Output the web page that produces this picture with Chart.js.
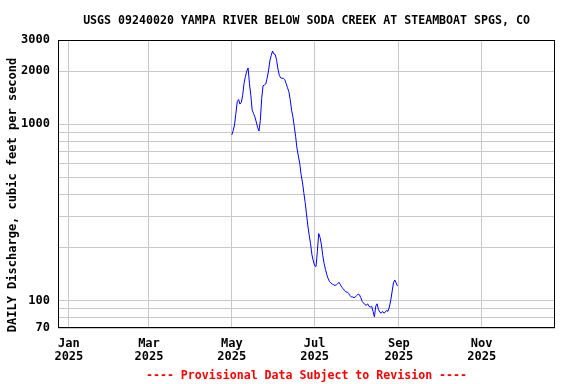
<!DOCTYPE html>
<html>
<head>
<meta charset="utf-8">
<script src="https://cdn.jsdelivr.net/npm/chart.js@4/dist/chart.umd.min.js"></script>
<style>
  html, body { margin: 0; padding: 0; background: #fff; }
</style>
</head>
<body>
<canvas id="flowChart" width="576" height="384"></canvas>
<script>
// days counted from Jan 1 2025
const firstDay = 120  // May 1
const dailyFlow = [
	870, 920, 990, 1150, 1340, 1380, 1300, 1330, 1460, 1700,
	1860, 2000, 2080, 1700, 1460, 1200, 1150, 1100, 1030, 960,
	915, 1050, 1400, 1650, 1670, 1690, 1820, 2000, 2280, 2450,
	2600, 2500, 2480, 2300, 2050, 1890, 1830, 1820, 1820, 1790,
	1700, 1610, 1530, 1380, 1200, 1100, 970, 850, 730, 660,
	600, 520, 470, 410, 360, 310, 265, 235, 210, 182,
	168, 158, 156, 190, 240, 228, 207, 180, 162, 150,
	140, 133, 128, 126, 124, 123, 122, 123, 125, 127,
	123, 119, 117, 114, 112, 112, 110, 107, 105, 105,
	104, 105, 107, 109, 108, 104, 99, 97, 95, 94,
	96, 93, 92, 93, 87, 81, 93, 96, 89, 86,
	85, 87, 85, 86, 88, 87, 92, 100, 112, 126,
	131, 126, 121
]

const monthDays = [0, 59, 120, 181, 243, 304]
const monthNames = ["Jan", "Mar", "May", "Jul", "Sep", "Nov"]
const yearLabel = "2025"

const yGrid = [70, 80, 90, 100, 200, 300, 400, 500, 600, 700, 800, 900, 1000, 2000, 3000]
const yLabeled = [70, 100, 1000, 2000, 3000]

const titleText = "USGS 09240020 YAMPA RIVER BELOW SODA CREEK AT STEAMBOAT SPGS, CO"
const yTitleText = "DAILY Discharge, cubic feet per second"
const captionText = "---- Provisional Data Subject to Revision ----"

const fontFamily = "'DejaVu Sans Mono', 'Liberation Mono', monospace"
const boldFont = "bold 12px " + fontFamily
const headFont = "bold 11.6px " + fontFamily
const gridColor = "#c8c8c8"

let points = []
dailyFlow.forEach((v, i) => {
	points.push({ x: firstDay + i, y: v })
})

// frame round the plot, title and caption centred on the plot area
const decorations = {
	id: "decorations",
	afterDraw(chart) {
		const a = chart.chartArea
		const ctx = chart.ctx
		const cx = (a.left + a.right) / 2
		ctx.save()
		ctx.strokeStyle = "#000"
		ctx.lineWidth = 1
		ctx.strokeRect(Math.round(a.left) + 0.5, Math.round(a.top) + 0.5,
			Math.round(a.right - a.left) - 1, Math.round(a.bottom - a.top) - 1)

		ctx.font = headFont
		ctx.textAlign = "center"
		ctx.textBaseline = "alphabetic"
		ctx.fillStyle = "#000"
		ctx.fillText(titleText, cx, 24)

		ctx.fillStyle = "#ff0000"
		ctx.fillText(captionText, cx, 379)

		ctx.font = boldFont
		ctx.fillStyle = "#000"
		ctx.translate(16, 195)
		ctx.rotate(-Math.PI / 2)
		ctx.fillText(yTitleText, 0, 0)
		ctx.restore()
	}
}

new Chart(document.getElementById("flowChart"), {
	type: "line",
	data: {
		datasets: [{
			data: points,
			borderColor: "#0000ff",
			borderWidth: 1,
			pointRadius: 0,
			fill: false,
			tension: 0,
		}]
	},
	options: {
		responsive: false,
		animation: false,
		devicePixelRatio: 1,
		layout: { padding: { left: 0, right: 21, top: 40, bottom: 0 } },
		plugins: {
			legend: { display: false },
			tooltip: { enabled: false },
		},
		scales: {
			x: {
				type: "linear",
				min: -8,
				max: 358,
				afterBuildTicks: scale => {
					scale.ticks = monthDays.map(d => ({ value: d }))
				},
				afterFit: scale => {
					scale.height = 56
				},
				ticks: {
					autoSkip: false,
					maxRotation: 0,
					padding: 9,
					color: "#000",
					font: { family: fontFamily, size: 12, weight: "bold", lineHeight: 1.1 },
					callback: value => [monthNames[monthDays.indexOf(value)], yearLabel],
				},
				grid: { color: gridColor, drawTicks: false },
				border: { display: false },
			},
			y: {
				type: "logarithmic",
				min: 70,
				max: 3000,
				afterBuildTicks: scale => {
					scale.ticks = yGrid.map(v => ({ value: v }))
				},
				afterFit: scale => {
					scale.width = 58
				},
				ticks: {
					padding: 8,
					color: "#000",
					font: { family: fontFamily, size: 12, weight: "bold" },
					callback: value => yLabeled.includes(value) ? String(value) : "",
				},
				grid: { color: gridColor, drawTicks: false },
				border: { display: false },
			},
		},
	},
	plugins: [decorations],
})
</script>
</body>
</html>
